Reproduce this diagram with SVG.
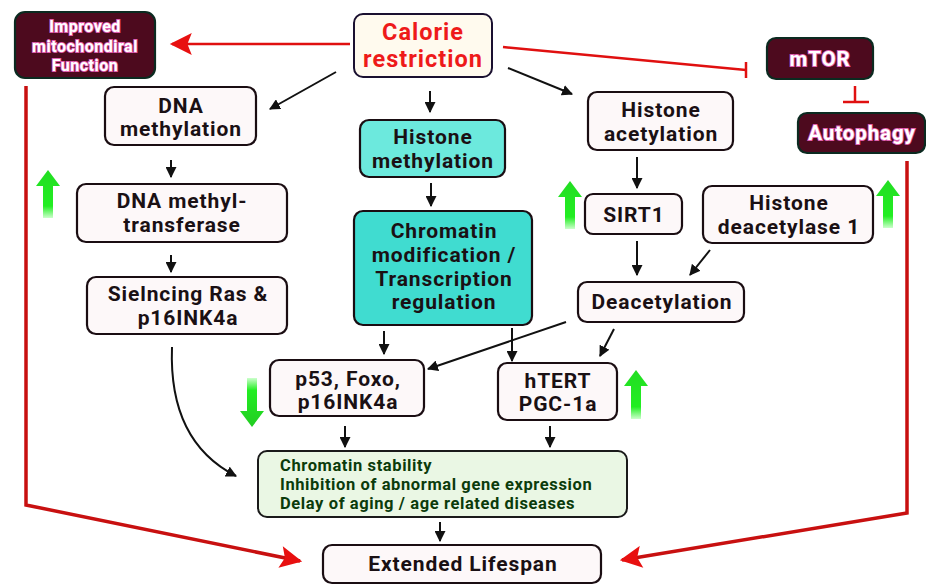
<svg xmlns="http://www.w3.org/2000/svg" width="926" height="586" viewBox="0 0 926 586">
<defs>
<style>
text{font-family:Roboto,"Liberation Sans",Arial,sans-serif;font-weight:bold;text-anchor:middle}
.nb{fill:#fdf8f9;stroke:#1a0d12;stroke-width:2.2}
.dk{fill:#4d0a1e;stroke:#0b2a20;stroke-width:2.2}
.t{font-size:21px;letter-spacing:0.9px;fill:#1a1014}
.w{font-size:16px;letter-spacing:0.5px;fill:#fff;stroke:#e060b0;stroke-width:1.8px;paint-order:stroke}
.wb{font-size:20.5px;letter-spacing:0.9px;fill:#fff;stroke:#e060b0;stroke-width:1.8px;paint-order:stroke}
.cy{fill:#6ce9dd;stroke:#1a0d12;stroke-width:2.2}
.cy2{fill:#40dcd0;stroke:#1a0d12;stroke-width:2.2}
.g{font-size:16.5px;letter-spacing:0.6px;fill:#0b3b0b;text-anchor:start}
.blk{fill:none;stroke:#111;stroke-width:2}
.red{fill:none;stroke:#e01010;stroke-width:2.5}
.dred{fill:none;stroke:#c81010;stroke-width:3.5}
.ga{fill:url(#gg)}
</style>
<marker id="ab2" viewBox="0 0 10 10" refX="9" refY="5" markerWidth="11" markerHeight="11" orient="auto" markerUnits="userSpaceOnUse">
<path d="M0,0 L10,5 L0,10 z" fill="#111"/>
</marker>
<marker id="ar" viewBox="0 0 10 10" refX="9" refY="5" markerWidth="24" markerHeight="22" orient="auto" markerUnits="userSpaceOnUse">
<path d="M0,0 L10,5 L0,10 L2,5 z" fill="#e81010"/>
</marker>
<linearGradient id="gg" x1="0" y1="0" x2="0" y2="1">
<stop offset="0" stop-color="#22dd22"/><stop offset="0.75" stop-color="#22ee22"/><stop offset="1" stop-color="#ccffcc"/>
</linearGradient>
<linearGradient id="gd" x1="0" y1="1" x2="0" y2="0">
<stop offset="0" stop-color="#22cc22"/><stop offset="0.75" stop-color="#22ee22"/><stop offset="1" stop-color="#ccffcc"/>
</linearGradient>
</defs>
<rect width="926" height="586" fill="#fff"/>

<g id="connectors">
<line class="red" x1="350" y1="44" x2="172" y2="44" marker-end="url(#ar)"/>
<polyline class="red" points="503,47 746,70"/>
<line class="red" x1="746" y1="62" x2="746" y2="78"/>
<line class="red" x1="855" y1="86" x2="855" y2="102"/>
<line class="red" x1="843" y1="102" x2="869" y2="102"/>
<polyline class="dred" points="26,86 26,505 300,561" marker-end="url(#ar)"/>
<polyline class="dred" points="907,161 907,513 622,560" marker-end="url(#ar)"/>
<line class="blk" x1="336" y1="72" x2="270" y2="109" marker-end="url(#ab2)"/>
<line class="blk" x1="430" y1="91" x2="430" y2="112" marker-end="url(#ab2)"/>
<line class="blk" x1="508" y1="68" x2="572" y2="94" marker-end="url(#ab2)"/>
<line class="blk" x1="171" y1="160" x2="171" y2="177" marker-end="url(#ab2)"/>
<line class="blk" x1="171" y1="255" x2="171" y2="272" marker-end="url(#ab2)"/>
<path class="blk" d="M172,347 C170,400 185,450 236,476" marker-end="url(#ab2)"/>
<line class="blk" x1="431" y1="183" x2="431" y2="206" marker-end="url(#ab2)"/>
<line class="blk" x1="637" y1="157" x2="637" y2="188" marker-end="url(#ab2)"/>
<line class="blk" x1="637" y1="241" x2="637" y2="275" marker-end="url(#ab2)"/>
<line class="blk" x1="710" y1="250" x2="690" y2="275" marker-end="url(#ab2)"/>
<line class="blk" x1="384" y1="331" x2="384" y2="354" marker-end="url(#ab2)"/>
<line class="blk" x1="512" y1="328" x2="512" y2="361" marker-end="url(#ab2)"/>
<line class="blk" x1="566" y1="322" x2="428" y2="369" marker-end="url(#ab2)"/>
<line class="blk" x1="614" y1="329" x2="600" y2="356" marker-end="url(#ab2)"/>
<line class="blk" x1="345" y1="426" x2="345" y2="447" marker-end="url(#ab2)"/>
<line class="blk" x1="550" y1="426" x2="550" y2="447" marker-end="url(#ab2)"/>
<line class="blk" x1="440" y1="522" x2="440" y2="541" marker-end="url(#ab2)"/>
</g>

<g id="green-arrows">
<path class="ga" d="M48,170 L60,186 L53,186 L53,218 L43,218 L43,186 L36,186 z"/>
<path class="ga" d="M570,181 L582,197 L575,197 L575,229 L565,229 L565,197 L558,197 z"/>
<path class="ga" d="M636,370 L648,386 L641,386 L641,419 L631,419 L631,386 L624,386 z"/>
<path class="ga" d="M888,180 L900,196 L893,196 L893,228 L883,228 L883,196 L876,196 z"/>
<path fill="url(#gd)" d="M252,427 L264,411 L257,411 L257,378 L247,378 L247,411 L240,411 z"/>
</g>

<g id="improved">
<rect class="dk" x="15" y="12" width="140" height="66" rx="10"/>
<text class="w" x="85" y="32">Improved</text>
<text class="w" x="85" y="52">mitochondiral</text>
<text class="w" x="85" y="71">Function</text>
</g>
<g id="calorie">
<rect x="354" y="14" width="138" height="63" rx="9" fill="#fffaee" stroke="#1a1030" stroke-width="2"/>
<text x="423" y="40" style="font-size:23.5px;letter-spacing:1px;fill:#ee1a1a">Calorie</text>
<text x="423" y="67" style="font-size:23.5px;letter-spacing:1px;fill:#ee1a1a">restriction</text>
</g>
<g id="mtor">
<rect class="dk" x="767" y="38" width="106" height="41" rx="9"/>
<text class="wb" x="820" y="66">mTOR</text>
</g>
<g id="autophagy">
<rect class="dk" x="798" y="113" width="127" height="40" rx="9"/>
<text class="wb" x="862" y="140">Autophagy</text>
</g>
<g id="dna-methylation">
<rect class="nb" x="105" y="87" width="151" height="58" rx="9"/>
<text class="t" x="181" y="113">DNA</text>
<text class="t" x="181" y="136">methylation</text>
</g>
<g id="histone-methylation">
<rect class="cy" x="360" y="120" width="145" height="57" rx="9"/>
<text class="t" x="433" y="144">Histone</text>
<text class="t" x="433" y="168">methylation</text>
</g>
<g id="histone-acetylation">
<rect class="nb" x="588" y="92" width="145" height="58" rx="9"/>
<text class="t" x="661" y="117">Histone</text>
<text class="t" x="661" y="141">acetylation</text>
</g>
<g id="dna-methyltransferase">
<rect class="nb" x="77" y="184" width="210" height="58" rx="9"/>
<text class="t" x="182" y="208">DNA methyl-</text>
<text class="t" x="182" y="232">transferase</text>
</g>
<g id="silencing">
<rect class="nb" x="87" y="277" width="200" height="57" rx="9"/>
<text class="t" x="188" y="301">Sielncing Ras &amp;</text>
<text class="t" x="188" y="325">p16INK4a</text>
</g>
<g id="chromatin">
<rect class="cy2" x="354" y="211" width="178" height="114" rx="9"/>
<text class="t" x="444" y="238">Chromatin</text>
<text class="t" x="444" y="262">modification /</text>
<text class="t" x="444" y="286">Transcription</text>
<text class="t" x="444" y="309">regulation</text>
</g>
<g id="sirt1">
<rect class="nb" x="585" y="194" width="97" height="40" rx="8"/>
<text class="t" x="634" y="222">SIRT1</text>
</g>
<g id="hdac1">
<rect class="nb" x="703" y="186" width="170" height="57" rx="9"/>
<text class="t" x="789" y="210">Histone</text>
<text class="t" x="789" y="234">deacetylase 1</text>
</g>
<g id="deacetylation">
<rect class="nb" x="578" y="282" width="166" height="40" rx="9"/>
<text class="t" x="662" y="309">Deacetylation</text>
</g>
<g id="p53">
<rect class="nb" x="270" y="360" width="154" height="56" rx="9"/>
<text class="t" x="348" y="386">p53, Foxo,</text>
<text class="t" x="348" y="409">p16INK4a</text>
</g>
<g id="htert">
<rect class="nb" x="498" y="363" width="119" height="57" rx="9"/>
<text class="t" x="558" y="388">hTERT</text>
<text class="t" x="558" y="411">PGC-1a</text>
</g>
<g id="outcomes">
<rect x="258" y="451" width="369" height="66" rx="9" fill="#eaf7e4" stroke="#1a1a1a" stroke-width="2"/>
<text class="g" x="280" y="471">Chromatin stability</text>
<text class="g" x="280" y="490">Inhibition of abnormal gene expression</text>
<text class="g" x="280" y="509">Delay of aging / age related diseases</text>
</g>
<g id="lifespan">
<rect class="nb" x="323" y="545" width="278" height="38" rx="9"/>
<text class="t" x="463" y="571">Extended Lifespan</text>
</g>
</svg>
